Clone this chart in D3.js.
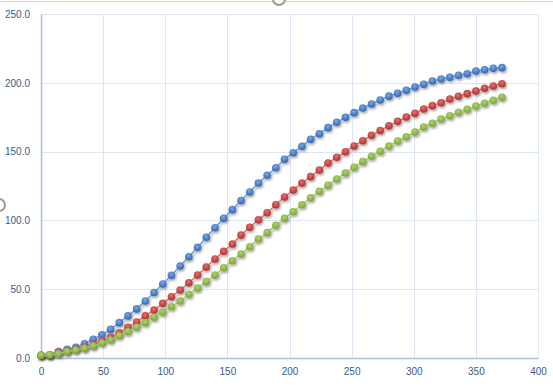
<!DOCTYPE html>
<html>
<head>
<meta charset="utf-8">
<script src="https://cdn.jsdelivr.net/npm/d3@7"></script>
<style>
	body { margin: 0; background: #fff; }
	svg { display: block; }
</style>
</head>
<body>
<svg class="chart" width="553" height="389"></svg>
<script>
////////////////////////////////////////////////////////////
//// Data //////////////////////////////////////////////////
////////////////////////////////////////////////////////////
const days = [
	0, 7, 14, 21, 28, 35, 42, 49, 56, 63, 70, 77, 84, 91, 98, 105, 112, 119,
	126, 133, 140, 147, 154, 161, 168, 175, 182, 189, 196, 203, 210, 217, 224,
	231, 238, 245, 252, 259, 266, 273, 280, 287, 294, 301, 308, 315, 322, 329,
	336, 343, 350, 357, 364, 371
];

const blueValues = [
	2.0, 2.4, 4.6, 6.3, 7.8, 10.4, 13.6, 16.9, 20.8, 25.7, 30.6, 35.7, 41.4,
	47.6, 53.8, 60.1, 66.9, 73.6, 80.4, 87.7, 94.7, 101.5, 107.8, 114.5, 120.6,
	127.2, 132.8, 138.3, 144.4, 149.2, 153.8, 158.9, 163.0, 167.4, 171.3, 174.9,
	178.3, 181.7, 184.6, 187.5, 190.3, 192.4, 194.5, 196.9, 198.9, 201.3, 202.8,
	204.0, 205.5, 206.6, 208.6, 209.5, 210.5, 211.0
];

const redValues = [
	2.0, 2.2, 4.4, 5.3, 6.5, 8.0, 9.9, 12.6, 15.0, 18.4, 22.3, 26.2, 30.6,
	34.8, 39.7, 44.5, 49.4, 54.7, 60.3, 66.1, 71.9, 77.5, 82.8, 89.3, 95.0,
	100.4, 105.6, 111.4, 117.0, 122.1, 127.2, 131.8, 136.6, 141.7, 145.9, 149.9,
	154.1, 157.9, 161.8, 165.3, 168.7, 172.0, 175.1, 177.8, 181.0, 183.4, 185.5,
	188.2, 190.2, 192.1, 194.0, 196.0, 197.7, 199.3
];

const greenValues = [
	2.0, 2.2, 3.1, 4.6, 5.8, 7.0, 8.7, 10.9, 13.1, 16.2, 19.1, 22.3, 25.7,
	29.6, 33.3, 37.3, 41.4, 46.3, 50.9, 55.5, 60.3, 65.6, 70.7, 75.6, 80.9,
	86.5, 91.1, 96.4, 101.5, 106.3, 111.4, 116.5, 121.1, 125.5, 130.1, 134.4,
	138.6, 142.7, 146.6, 150.3, 154.0, 157.7, 160.8, 164.2, 167.9, 170.6, 173.7,
	176.1, 178.6, 180.7, 183.1, 185.1, 187.3, 189.5
];

const xTicks = [0, 50, 100, 150, 200, 250, 300, 350, 400];
const yTicks = [0, 50, 100, 150, 200, 250];

////////////////////////////////////////////////////////////
//// Setup /////////////////////////////////////////////////
////////////////////////////////////////////////////////////
const svg = d3.select(".chart");
const margin = { top: 14, right: 15, bottom: 31, left: 41 };
const svgWidth = 553;
const svgHeight = 389;
const width = svgWidth - margin.left - margin.right;
const height = svgHeight - margin.top - margin.bottom;

const labelColor = "#3d5a86";
const gridColor = "#dde7f3";
const axisColor = "#a9c0e2";

const series = [
	{ name: "blue", values: blueValues, line: "#6f9bd6", light: "#7aa8e6", dark: "#2f63ad" },
	{ name: "red", values: redValues, line: "#d27573", light: "#e2716e", dark: "#ad2e2b" },
	{ name: "green", values: greenValues, line: "#a8c677", light: "#add56a", dark: "#7ca238" }
];

const x = d3.scaleLinear().domain([0, 400]).range([0, width]);
const y = d3.scaleLinear().domain([0, 250]).range([height, 0]);

const defs = svg.append("defs");

defs
	.append("filter")
	.attr("id", "shadow")
	.attr("x", "-20%")
	.attr("y", "-20%")
	.attr("width", "140%")
	.attr("height", "140%")
	.append("feDropShadow")
	.attr("dx", 1.2)
	.attr("dy", 1.8)
	.attr("stdDeviation", 0.9)
	.attr("flood-color", "#000")
	.attr("flood-opacity", 0.35);

series.forEach(s => {
	const grad = defs
		.append("radialGradient")
		.attr("id", `grad-${s.name}`)
		.attr("cx", "45%")
		.attr("cy", "35%")
		.attr("r", "65%");
	grad.append("stop").attr("offset", "0%").attr("stop-color", s.light);
	grad.append("stop").attr("offset", "100%").attr("stop-color", s.dark);
});

// Chart frame (selection handles)
const frame = svg.append("g").attr("fill", "none").attr("stroke", "#9a9a9a");
frame
	.append("line")
	.attr("x1", 0)
	.attr("x2", svgWidth)
	.attr("y1", 1.5)
	.attr("y2", 1.5)
	.attr("stroke", "#d0d0d0");
frame
	.append("circle")
	.attr("cx", 279)
	.attr("cy", -1)
	.attr("r", 6)
	.attr("fill", "#fff")
	.attr("stroke-width", 2);
frame
	.append("circle")
	.attr("cx", -1)
	.attr("cy", 205)
	.attr("r", 6)
	.attr("fill", "#fff")
	.attr("stroke-width", 2);

const g = svg
	.append("g")
	.attr("transform", `translate(${margin.left},${margin.top})`);

////////////////////////////////////////////////////////////
//// Grid & axes ///////////////////////////////////////////
////////////////////////////////////////////////////////////
g.append("g")
	.selectAll("line")
	.data(yTicks.filter(d => d > 0))
	.join("line")
	.attr("x1", 0)
	.attr("x2", width)
	.attr("y1", d => Math.round(y(d)) + 0.5)
	.attr("y2", d => Math.round(y(d)) + 0.5)
	.attr("stroke", gridColor);

g.append("g")
	.selectAll("line")
	.data(xTicks.filter(d => d > 0))
	.join("line")
	.attr("x1", d => Math.round(x(d)) + 0.5)
	.attr("x2", d => Math.round(x(d)) + 0.5)
	.attr("y1", 0)
	.attr("y2", height)
	.attr("stroke", gridColor);

const yAxis = g
	.append("g")
	.call(
		d3
			.axisLeft(y)
			.tickValues(yTicks)
			.tickFormat(d3.format(".1f"))
			.tickSize(0)
			.tickPadding(11)
	);

const xAxis = g
	.append("g")
	.attr("transform", `translate(0,${height})`)
	.call(
		d3
			.axisBottom(x)
			.tickValues(xTicks)
			.tickSize(0)
			.tickPadding(10)
	);

[yAxis, xAxis].forEach(axis => {
	axis.select(".domain").attr("stroke", axisColor).attr("stroke-width", 1.5);
	axis
		.selectAll("text")
		.attr("fill", labelColor)
		.attr("font-family", "Liberation Sans, Arial, sans-serif")
		.attr("font-size", 10);
});

////////////////////////////////////////////////////////////
//// Series ////////////////////////////////////////////////
////////////////////////////////////////////////////////////
const line = d3
	.line()
	.x((d, i) => x(days[i]))
	.y(d => y(d));

const seriesG = g
	.selectAll(".series")
	.data(series)
	.join("g")
	.attr("class", "series")
	.attr("filter", "url(#shadow)");

seriesG
	.append("path")
	.attr("fill", "none")
	.attr("stroke", d => d.line)
	.attr("stroke-width", 1.5)
	.attr("d", d => line(d.values));

seriesG
	.selectAll("circle")
	.data(d => d.values.map(v => ({ v, s: d })))
	.join("circle")
	.attr("cx", (d, i) => x(days[i]))
	.attr("cy", d => y(d.v))
	.attr("r", 3.8)
	.attr("fill", d => `url(#grad-${d.s.name})`);
</script>
</body>
</html>
